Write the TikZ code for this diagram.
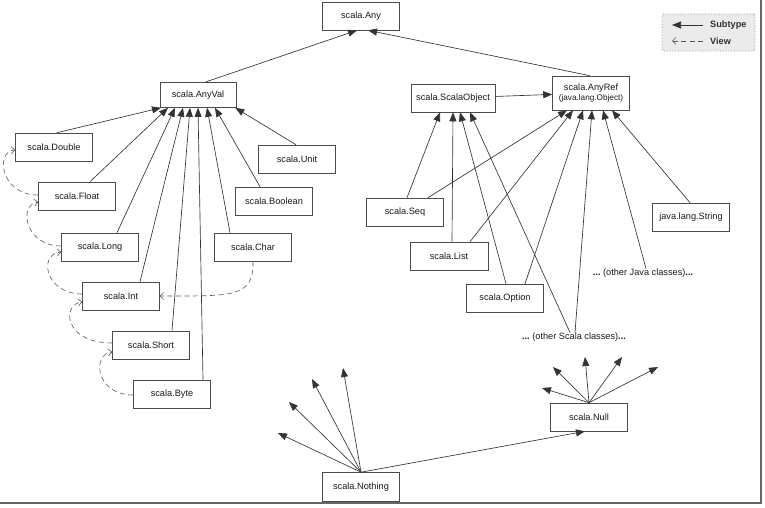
\documentclass[tikz,border=0pt]{standalone}
\usepackage{fontspec}
\setmainfont{Liberation Sans}
\usetikzlibrary{arrows.meta}
\begin{document}
\begin{tikzpicture}[x=1pt,y=-1pt,
  box/.style={draw=black!70, line width=0.6pt, minimum width=77pt, minimum height=28pt, inner sep=0pt, font=\fontsize{9.2}{11}\selectfont, text=black!90},
  sub/.style={draw=black!80, line width=0.65pt, -{Triangle[length=9pt,width=7pt]}},
  view/.style={draw=black!65, line width=0.6pt, dash pattern=on 5pt off 3.5pt, -{Straight Barb[length=3.5pt,width=7pt]}},
  lbl/.style={inner sep=1pt, font=\fontsize{9.2}{11}\selectfont, text=black!90},
  leg/.style={anchor=west, inner sep=0pt, font=\fontsize{9.2}{11}\selectfont\bfseries, text=black!80}]

\useasboundingbox (0,0) rectangle (765,508);

% nodes
\node[box] (any) at (361,16) {scala.Any};
\node[box, minimum width=76pt, minimum height=25pt] (anyval) at (198,95) {scala.AnyVal};
\node[box] (double) at (54,147) {scala.Double};
\node[box] (float) at (77,196) {scala.Float};
\node[box] (long) at (100,247) {scala.Long};
\node[box] (int) at (121,296) {scala.Int};
\node[box] (short) at (151,345) {scala.Short};
\node[box] (byte) at (172,394) {scala.Byte};
\node[box] (unit) at (297,159) {scala.Unit};
\node[box] (boolean) at (274,201) {scala.Boolean};
\node[box] (char) at (253,247) {scala.Char};
\node[box, minimum width=84pt] (sobj) at (453,98) {scala.ScalaObject};
\node[box, minimum height=34pt, align=center] (anyref) at (591,93) {scala.AnyRef\\[-1pt]{\fontsize{8.2}{10}\selectfont (java.lang.Object)}};
\node[box] (seq) at (405,212) {scala.Seq};
\node[box, minimum width=78pt] (list) at (449,256) {scala.List};
\node[box] (option) at (505,298) {scala.Option};
\node[box] (string) at (691,217) {java.lang.String};
\node[lbl] (ojava) at (643,273) {\textbf{...}\ (other Java classes)\textbf{...}};
\node[lbl] (oscala) at (574,337) {\textbf{...}\ (other Scala classes)\textbf{...}};
\node[box] (null) at (589,417) {scala.Null};
\node[box, minimum height=29pt] (nothing) at (361,487) {scala.Nothing};

% legend
\node[draw=black!45, dotted, line width=0.8pt, fill=black!8, rounded corners=1.5pt, minimum width=93pt, minimum height=37pt] (legend) at (708.5,32.5) {};
\coordinate (ls1) at (703,25);
\coordinate (ls2) at (672,25);
\coordinate (lv1) at (703,41);
\coordinate (lv2) at (672,41);
\draw[sub] (ls1) -- (ls2);
\draw[view] (lv1) -- (lv2);
\node[leg] (lsub) at (710,25) {Subtype};
\node[leg] (lview) at (710,41) {View};

% top-level subtypes
\draw[sub] ([xshift=7pt]anyval.north) -- ([xshift=-4pt]any.south);
\draw[sub] ([xshift=-1pt]anyref.north) -- ([xshift=7pt]any.south);

% value classes
\draw[sub] ([xshift=3pt]double.north) -- ([xshift=-37pt]anyval.south);
\draw[sub] ([xshift=13pt]float.north) -- ([xshift=-30pt]anyval.south);
\draw[sub] ([xshift=17pt]long.north) -- ([xshift=-23pt]anyval.south);
\draw[sub] ([xshift=19pt]int.north) -- ([xshift=-15pt]anyval.south);
\draw[sub] ([xshift=21pt]short.north) -- ([xshift=-8pt]anyval.south);
\draw[sub] ([xshift=31pt]byte.north) -- ([xshift=0pt]anyval.south);
\draw[sub] ([xshift=-23pt]char.north) -- ([xshift=9pt]anyval.south);
\draw[sub] ([xshift=-14pt]boolean.north) -- ([xshift=17pt]anyval.south);
\draw[sub] ([xshift=-1pt]unit.north) -- ([xshift=-1pt]anyval.south east);

% views
\draw[view] ([yshift=1pt]float.west) .. controls (0,195) and (-5,151) .. ([yshift=-3pt]double.west);
\draw[view] ([yshift=1pt]long.west) .. controls (25,246) and (18,205) .. ([yshift=-6pt]float.west);
\draw[view] ([yshift=2pt]int.west) .. controls (45,294) and (38,254) .. ([yshift=-5pt]long.west);
\draw[view] ([yshift=2pt]short.west) .. controls (63,343) and (62,304) .. ([yshift=-6pt]int.west);
\draw[view] ([yshift=-1pt]byte.west) .. controls (95,395) and (92,354) .. ([yshift=-7pt]short.west);
\draw[view] (char.south) .. controls (254,298) and (232,296) .. (int.east);

% reference classes
\draw[sub] (sobj) -- (anyref);
\draw[sub] ([xshift=2pt]seq.north) -- ([xshift=-13pt]sobj.south);
\draw[sub] ([xshift=23pt]seq.north) -- ([xshift=-24pt]anyref.south);
\draw[sub] ([xshift=3pt]list.north) -- ([xshift=0pt]sobj.south);
\draw[sub] ([xshift=21pt]list.north) -- ([xshift=-18pt]anyref.south);
\draw[sub] ([xshift=1pt]option.north) -- ([xshift=7pt]sobj.south);
\draw[sub] ([xshift=20pt]option.north) -- ([xshift=-8pt]anyref.south);
\draw[sub] ([xshift=-4pt,yshift=-1pt]oscala.north) -- ([xshift=17pt]sobj.south);
\draw[sub] ([xshift=1pt,yshift=-1pt]oscala.north) -- ([xshift=1pt]anyref.south);
\draw[sub] ([xshift=3pt,yshift=-1pt]ojava.north) -- ([xshift=12pt]anyref.south);
\draw[sub] ([xshift=-1pt]string.north) -- ([xshift=21pt]anyref.south);

% bottom types
\coordinate (n1) at (278,433);
\coordinate (n2) at (289,402);
\coordinate (n3) at (312,379);
\coordinate (n4) at (343,368);
\draw[sub] (nothing.north) -- (n1);
\draw[sub] (nothing.north) -- (n2);
\draw[sub] (nothing.north) -- (n3);
\draw[sub] (nothing.north) -- (n4);
\draw[sub] (nothing.north) -- ([xshift=-4pt]null.south);
\coordinate (u1) at (542,388);
\coordinate (u2) at (553,367);
\coordinate (u3) at (585,357);
\coordinate (u4) at (622,357);
\coordinate (u5) at (658,367);
\draw[sub] (null.north) -- (u1);
\draw[sub] (null.north) -- (u2);
\draw[sub] (null.north) -- (u3);
\draw[sub] (null.north) -- (u4);
\draw[sub] (null.north) -- (u5);

% frame shadow
\draw[black!60, line width=2.5pt] (761,0) -- (761,503) -- (0,503);
\end{tikzpicture}
\end{document}
